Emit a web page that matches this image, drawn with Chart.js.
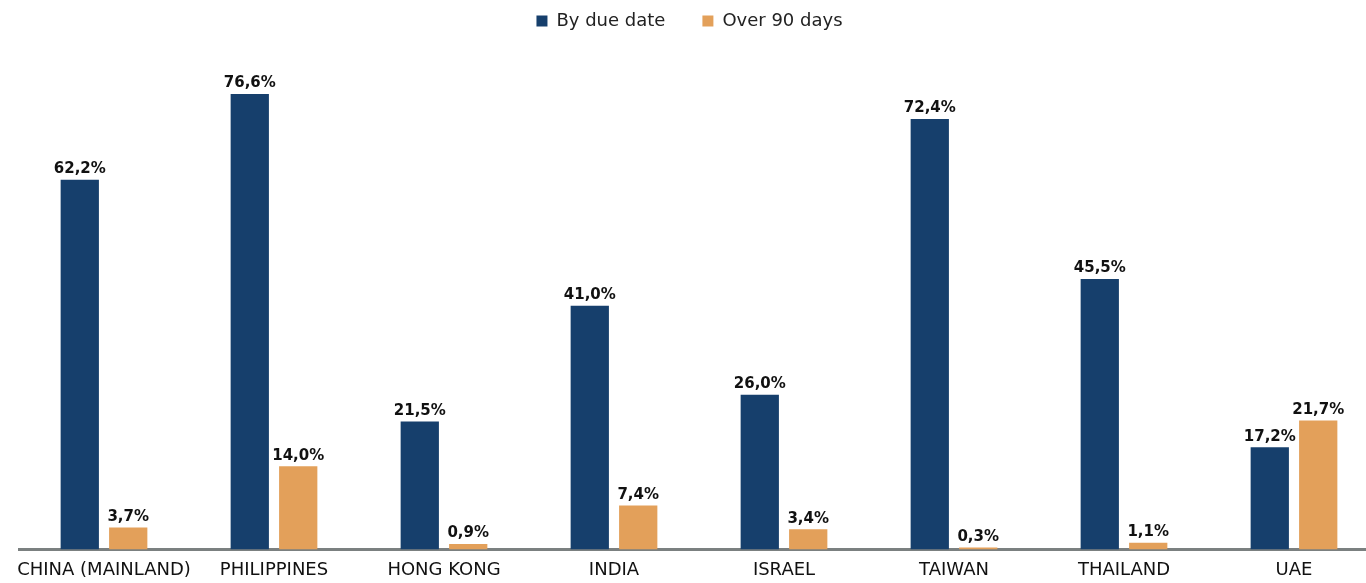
<!DOCTYPE html>
<html><head><meta charset="utf-8">
<script src="https://cdn.jsdelivr.net/npm/chart.js@4/dist/chart.umd.min.js"></script>
<style>
html,body{margin:0;padding:0;overflow:hidden;background:#fff;}
#wrap{width:1380px;height:583px;position:relative;}
</style></head>
<body><div id="wrap"><canvas id="c"></canvas></div>
<script>
const categories = ["CHINA (MAINLAND)", "PHILIPPINES", "HONG KONG", "INDIA", "ISRAEL", "TAIWAN", "THAILAND", "UAE"];
const byDueDate = [62.2, 76.6, 21.5, 41.0, 26.0, 72.4, 45.5, 17.2];
const over90Days = [3.7, 14.0, 0.9, 7.4, 3.4, 0.3, 1.1, 21.7];
const seriesNames = ["By due date", "Over 90 days"];
const FONT = "'DejaVu Sans', Verdana, sans-serif";

const labelPlugin = {
  id: 'barLabels',
  afterDatasetsDraw(chart) {
    const ctx = chart.ctx;
    ctx.save();
    ctx.font = "bold 15px " + FONT;
    ctx.fillStyle = "#111";
    ctx.textAlign = "center";
    ctx.textBaseline = "bottom";
    chart.data.datasets.forEach((ds, i) => {
      const meta = chart.getDatasetMeta(i);
      meta.data.forEach((bar, j) => {
        const v = ds.data[j];
        ctx.fillText(v.toFixed(1).replace('.', ',') + '%', bar.x, bar.y - 3);
      });
    });
    ctx.restore();
  }
};

new Chart(document.getElementById('c'), {
  type: 'bar',
  data: {
    labels: categories,
    datasets: [
      { label: seriesNames[0], data: byDueDate, backgroundColor: '#163f6c' },
      { label: seriesNames[1], data: over90Days, backgroundColor: '#e3a05a' }
    ]
  },
  options: {
    responsive: true,
    maintainAspectRatio: false,
    animation: false,
    datasets: { bar: { categoryPercentage: 0.57, barPercentage: 0.79 } },
    layout: { padding: { left: 0, right: 1, top: -25, bottom: -8 } },
    plugins: {
      legend: {
        position: 'top',
        labels: { boxWidth: 11, boxHeight: 11, padding: 37, color: '#222', font: { family: FONT, size: 18 } }
      },
      tooltip: { enabled: false }
    },
    scales: {
      x: {
        grid: { display: false, drawTicks: false },
        border: { display: true, color: '#7b8080', width: 3 },
        ticks: { color: '#111', font: { family: FONT, size: 18 }, padding: 10, maxRotation: 0, autoSkip: false }
      },
      y: {
        display: true,
        min: 0, max: 85.7,
        grid: { display: false, drawTicks: false },
        border: { display: false },
        ticks: { display: false },
        afterFit(scale) { scale.width = 19; }
      }
    }
  },
  plugins: [labelPlugin]
});
</script></body></html>
